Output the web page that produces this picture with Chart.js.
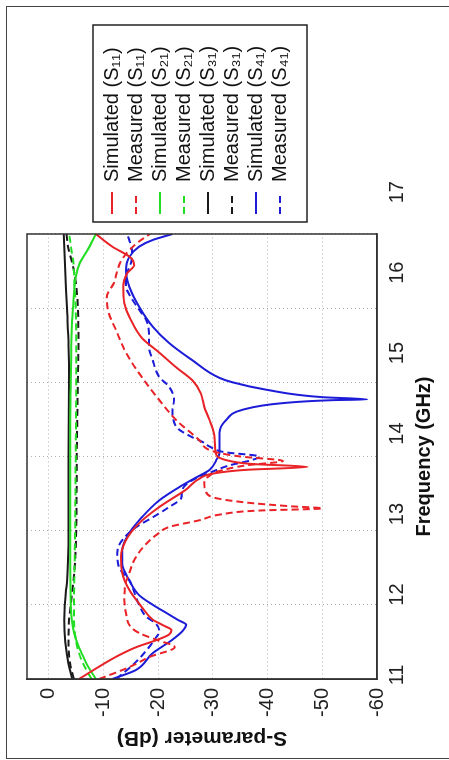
<!DOCTYPE html>
<html>
<head>
<meta charset="utf-8">
<script src="https://cdn.jsdelivr.net/npm/chart.js@4.4.0/dist/chart.umd.min.js"></script>
<style>
  html, body { margin: 0; padding: 0; background: #fff; overflow: hidden; }
  body { width: 449px; height: 760px; position: relative; }
  .frame { position: absolute; left: 6px; top: 6px; width: 480px; height: 753px; border: 1.5px solid #444; box-sizing: border-box; }
  /* the figure is drawn landscape and turned a quarter turn to the left */
  .rot { position: absolute; left: 0; top: 0; width: 760px; height: 449px; transform-origin: 0 0; transform: translateY(760px) rotate(-90deg); }
</style>
</head>
<body>
<div class="frame"></div>
<div class="rot"><canvas id="sparam" width="760" height="449"></canvas></div>
<script>
const freqTicks = [11, 12, 13, 14, 15, 16, 17];
const dbTicks = [0, -10, -20, -30, -40, -50, -60];

// S11
const s11SimF = [11.0, 11.15, 11.3, 11.43, 11.52, 11.6, 11.66, 11.72, 11.8, 11.97, 12.2, 12.43, 12.65, 12.87, 13.1, 13.32, 13.55, 13.7, 13.77, 13.82, 13.86, 13.9, 13.95, 14.05, 14.26, 14.49, 14.67, 14.85, 15.03, 15.2, 15.4, 15.6, 15.84, 16.07, 16.29, 16.47, 16.58, 16.68, 16.83, 17.0];
const s11SimDb = [-5.5, -8.8, -12.3, -16, -19.5, -22.0, -22.4, -21.0, -19, -17, -14.7, -13.4, -13.2, -14.1, -16.5, -20.2, -25, -27.5, -30, -36, -47.3, -37, -32.5, -30.5, -30.3, -29.4, -28.4, -27.8, -26.2, -23.3, -20.2, -17, -15, -13.8, -13.6, -14.3, -15.6, -15, -11.6, -8.6];
const s11MeasF = [11.0, 11.16, 11.3, 11.43, 11.53, 11.62, 11.7, 11.89, 12.07, 12.24, 12.43, 12.6, 12.8, 12.95, 13.05, 13.14, 13.22, 13.27, 13.3, 13.33, 13.38, 13.45, 13.55, 13.64, 13.72, 13.8, 13.88, 13.94, 14.0, 14.05, 14.1, 14.22, 14.49, 14.76, 15.07, 15.4, 15.7, 15.97, 16.15, 16.34, 16.5, 16.65, 16.78, 16.9, 17.0];
const s11MeasDb = [-9.2, -14.7, -18.5, -23, -19.6, -16.5, -15, -14.1, -13.8, -13.9, -14.7, -15.6, -17.5, -19.8, -22, -27.5, -31.5, -38, -50, -44, -36, -30, -28.6, -28.4, -29, -31, -36, -42.8, -35, -31, -29, -27.5, -23.3, -20.2, -17, -14.1, -12.3, -10.8, -10.6, -11.9, -12.5, -13.3, -14.7, -16.5, -18.5];

// S21
const s21SimF = [11.0, 11.15, 11.3, 11.45, 11.6, 11.8, 12.0, 12.5, 13, 13.5, 14, 14.5, 15, 15.5, 15.9, 16.2, 16.42, 16.6, 16.8, 17.0];
const s21SimDb = [-8.6, -7.3, -6.3, -5.4, -4.7, -4.2, -4.0, -3.9, -3.9, -3.9, -3.9, -3.9, -4.0, -4.1, -4.3, -4.6, -4.9, -5.6, -7.2, -8.6];
const s21MeasF = [11.0, 11.2, 11.4, 11.6, 11.8, 12.0, 12.5, 13, 14, 15, 15.5, 16, 16.3, 16.6, 16.8, 17.0];
const s21MeasDb = [-7.8, -6.3, -5.3, -4.8, -4.6, -4.6, -4.7, -4.8, -4.9, -5.0, -5.0, -4.9, -4.7, -4.5, -4.1, -3.7];

// S31
const s31SimF = [11.0, 11.2, 11.5, 11.8, 12.0, 12.3, 12.6, 13, 14, 15, 15.5, 16, 16.5, 17.0];
const s31SimDb = [-4.3, -3.6, -3.0, -2.8, -2.9, -3.3, -3.5, -3.6, -3.6, -3.7, -3.6, -3.3, -3.0, -2.7];
const s31MeasF = [11.0, 11.2, 11.5, 11.8, 12.0, 12.4, 13, 14, 15, 15.5, 16, 16.3, 16.6, 16.8, 17.0];
const s31MeasDb = [-4.6, -3.9, -3.6, -3.7, -4.0, -4.6, -5.0, -5.1, -5.3, -5.4, -5.3, -5.0, -4.3, -3.6, -3.2];

// S41
const s41SimF = [11.0, 11.12, 11.35, 11.53, 11.65, 11.73, 11.8, 11.89, 12.0, 12.13, 12.33, 12.56, 12.74, 12.97, 13.18, 13.41, 13.59, 13.72, 13.82, 13.95, 14.05, 14.32, 14.49, 14.63, 14.72, 14.76, 14.77, 14.8, 14.9, 15.0, 15.06, 15.3, 15.53, 15.75, 16.02, 16.29, 16.51, 16.69, 16.83, 16.92, 17.0];
const s41SimDb = [-11.6, -15.9, -19, -22.6, -24.5, -25.1, -23.5, -21.5, -19, -16.5, -14.7, -13.4, -13.4, -14.7, -17, -20.2, -23.9, -27, -29.4, -30.6, -31.2, -31.2, -32.4, -35.4, -42.8, -52, -58.2, -50, -39.8, -33.6, -31.2, -26.2, -22, -19, -16.5, -14.7, -14.1, -14.7, -16.5, -19, -22.6];
const s41MeasF = [11.0, 11.2, 11.4, 11.55, 11.64, 11.75, 11.84, 12.0, 12.33, 12.51, 12.7, 12.87, 13.05, 13.18, 13.32, 13.44, 13.55, 13.68, 13.78, 13.88, 13.95, 14.0, 14.06, 14.13, 14.2, 14.26, 14.4, 14.63, 14.76, 14.94, 15.07, 15.3, 15.48, 15.66, 15.84, 16.02, 16.15, 16.29, 16.42, 16.61, 16.78, 16.92, 17.0];
const s41MeasDb = [-12.3, -15.5, -18, -19.5, -20.2, -19.5, -17.8, -16.5, -14.7, -12.8, -12.5, -13.4, -16, -19, -22, -24.2, -24.4, -26.2, -29.4, -33, -37, -38.5, -32, -29.5, -28, -26.2, -23.3, -22.6, -22.9, -22, -20.2, -19, -18.3, -18.3, -17.8, -16.1, -15, -14.1, -14.1, -15, -15.2, -14.7, -14.3];

const red = '#e82226', green = '#22dd22', black = '#1a1a1a', blue = '#1c1cd8';
const dashed = [7, 4];

function pts(f, db) {
    return f.map((v, i) => ({x: v, y: db[i]}));
}

const series = [
    {label: 'Simulated (S\u2081\u2081)', f: s11SimF, db: s11SimDb, color: red, dash: []},
    {label: 'Measured (S\u2081\u2081)', f: s11MeasF, db: s11MeasDb, color: red, dash: dashed},
    {label: 'Simulated (S\u2082\u2081)', f: s21SimF, db: s21SimDb, color: green, dash: []},
    {label: 'Measured (S\u2082\u2081)', f: s21MeasF, db: s21MeasDb, color: green, dash: dashed},
    {label: 'Simulated (S\u2083\u2081)', f: s31SimF, db: s31SimDb, color: black, dash: []},
    {label: 'Measured (S\u2083\u2081)', f: s31MeasF, db: s31MeasDb, color: black, dash: dashed},
    {label: 'Simulated (S\u2084\u2081)', f: s41SimF, db: s41SimDb, color: blue, dash: []},
    {label: 'Measured (S\u2084\u2081)', f: s41MeasF, db: s41MeasDb, color: blue, dash: dashed}
];

const datasets = series.map(s => ({
    label: s.label,
    data: pts(s.f, s.db),
    borderColor: s.color,
    backgroundColor: s.color,
    borderDash: s.dash,
    borderWidth: 2,
    pointRadius: 0,
    pointStyle: 'line',
    fill: false,
    cubicInterpolationMode: 'monotone',
    xAxisID: 'x',
    yAxisID: 'y'
}));

const fontFamily = '"Liberation Sans", Arial, sans-serif';
const tickFont = {family: fontFamily, size: 20};
const titleFont = {family: fontFamily, size: 20, weight: 'bold'};

// the layout gives a side legend at most a quarter of the free width,
// so the left padding is pulled back and the y axis made wider to match
const padLeft = -120;

// box round the plot area
const plotFrame = {
    id: 'plotFrame',
    afterDatasetsDraw(chart) {
        const {ctx, chartArea: a} = chart;
        ctx.save();
        ctx.strokeStyle = '#333';
        ctx.lineWidth = 1.5;
        ctx.strokeRect(a.left, a.top, a.right - a.left, a.bottom - a.top);
        ctx.restore();
    }
};

// legend column sits a little above the middle of the plot in the figure
const legendNudge = {
    id: 'legendNudge',
    afterLayout(chart) {
        chart.legend.top -= 6;
        chart.legend.bottom -= 6;
    }
};

// box round the legend entries
const legendFrame = {
    id: 'legendFrame',
    afterDraw(chart) {
        const boxes = chart.legend && chart.legend.legendHitBoxes;
        if (!boxes || !boxes.length) return;
        const first = boxes[0], last = boxes[boxes.length - 1];
        const left = first.left - 8;
        const top = first.top + first.height / 2 - 19;
        const bottom = last.top + last.height / 2 + 27;
        const ctx = chart.ctx;
        ctx.save();
        ctx.strokeStyle = '#222';
        ctx.lineWidth = 1.5;
        ctx.strokeRect(left, top, 197, bottom - top);
        ctx.restore();
    }
};

const chart = new Chart(document.getElementById('sparam'), {
    type: 'line',
    data: {datasets: datasets},
    plugins: [plotFrame, legendNudge, legendFrame],
    options: {
        responsive: false,
        animation: false,
        events: [],
        layout: {padding: {left: padLeft, top: 27, right: 20, bottom: 0}},
        plugins: {
            tooltip: {enabled: false},
            legend: {
                position: 'right',
                fullSize: false,
                align: 'center',
                labels: {
                    usePointStyle: true,
                    pointStyle: 'line',
                    pointStyleWidth: 22,
                    padding: 4,
                    color: '#111',
                    font: {family: fontFamily, size: 20},
                    // point-style samples take the point's style, so put the line dash back
                    generateLabels: chart => Chart.defaults.plugins.legend.labels.generateLabels(chart).map(item => {
                        const ds = chart.data.datasets[item.datasetIndex];
                        item.lineDash = ds.borderDash;
                        item.lineWidth = ds.borderWidth;
                        item.strokeStyle = ds.borderColor;
                        return item;
                    })
                }
            }
        },
        scales: {
            x: {
                type: 'linear',
                position: 'bottom',
                min: 11,
                max: 17,
                afterBuildTicks: s => { s.ticks = freqTicks.map(v => ({value: v})); },
                ticks: {display: false},
                grid: {color: '#b0b0b0', lineWidth: 1, drawTicks: false},
                border: {display: true, color: '#333', width: 1.5, dash: [1, 3]},
                afterFit: s => { s.height = 0; }
            },
            // label row for the frequency axis, spaced as in the figure
            x2: {
                type: 'linear',
                position: 'bottom',
                min: 10.95,
                max: 16.48,
                afterBuildTicks: s => { s.ticks = freqTicks.map(v => ({value: v})); },
                ticks: {autoSkip: false, maxRotation: 0, padding: 8, color: '#222', font: tickFont},
                grid: {display: false, drawTicks: false},
                border: {display: false},
                title: {display: true, text: 'Frequency (GHz)', color: '#111', font: titleFont, padding: {top: 0, bottom: 13}},
                afterFit: s => { s.height = 72; }
            },
            y: {
                type: 'linear',
                position: 'left',
                min: -60,
                max: 4,
                afterBuildTicks: s => { s.ticks = dbTicks.map(v => ({value: v})); },
                ticks: {padding: 9, color: '#222', font: tickFont},
                grid: {color: '#b0b0b0', lineWidth: 1, drawTicks: false},
                border: {display: true, color: '#333', width: 1.5, dash: [1, 3]},
                title: {display: true, text: 'S-parameter (dB)', color: '#111', font: {family: fontFamily, size: 21, weight: 'bold'}, padding: {top: 10 - padLeft, bottom: 0}},
                afterFit: s => { s.width = 81 - padLeft; }
            },
            y2: {
                type: 'linear',
                position: 'right',
                display: false,
                afterFit: s => { s.width = 16; }
            }
        }
    }
});

// line the plot box up with the legend column
const shift = chart.chartArea.right - 526;
if (Math.abs(shift) > 0.5) {
    chart.options.layout.padding.right += shift;
    chart.update('none');
}
</script>
</body>
</html>
